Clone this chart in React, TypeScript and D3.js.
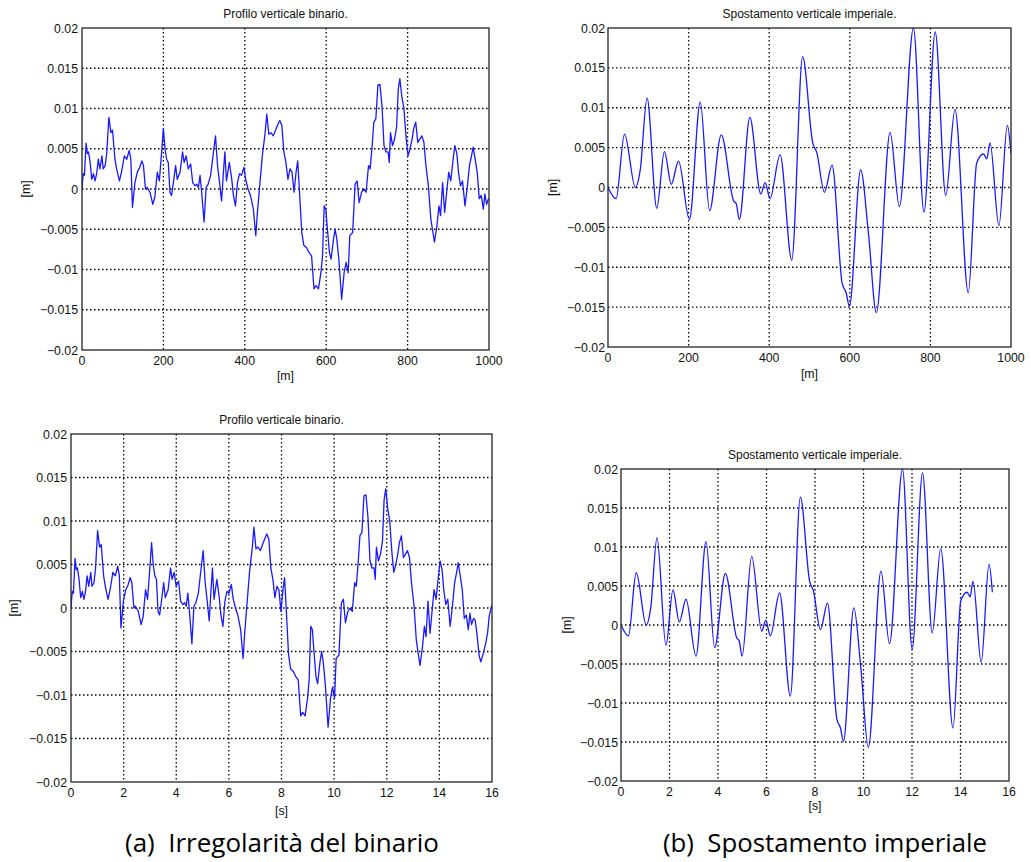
import React, { useRef, useEffect } from 'react';
import * as d3 from 'd3';

// train speed used to turn distance [m] into time [s]
const SPEED = 65.3;

// track vertical profile, [distance m, value m]
const trackProfile: [number, number][] = [
  [0, 0], [3, 0.0019], [6, 0.0017], [10, 0.0057], [13, 0.0044], [16, 0.0046], [20, 0.0033],
  [24, 0.0012], [28, 0.0019], [32, 0.001], [36, 0.0019], [40, 0.0037], [44, 0.0025], [49, 0.0041],
  [52, 0.0025], [57, 0.0029], [61, 0.0046], [66, 0.0089], [71, 0.007], [75, 0.0073], [81, 0.0037],
  [85, 0.0025], [92, 0.001], [97, 0.0021], [104, 0.0041], [110, 0.0037], [116, 0.0048], [120, 0.0037],
  [124, -0.0023], [130, 0.0008], [136, 0.0021], [142, 0.0027], [147, 0.0035], [151, 0.0029],
  [156, 0.0], [160, 0.0002], [167, -0.0004], [174, -0.0019], [179, -0.001], [185, 0.0021],
  [190, 0.001], [196, 0.0048], [200, 0.0075], [204, 0.005], [208, 0.0037], [212, 0.0033],
  [216, -0.0004], [220, -0.0008], [224, 0.0006], [230, 0.0029], [234, 0.0012], [241, 0.0021],
  [247, 0.0046], [251, 0.0033], [256, 0.0041], [261, 0.0025], [267, 0.0031], [272, 0.0008],
  [278, 0.0004], [282, 0.0006], [286, 0.0002], [290, 0.0017], [294, -0.0004], [300, -0.0041],
  [305, 0.0002], [310, 0.0006], [316, 0.0017], [323, 0.0046], [328, 0.0066], [333, 0.0029],
  [338, 0.0008], [343, -0.0015], [347, 0.0017], [351, 0.0046], [355, 0.001], [362, 0.0033],
  [368, 0.0012], [372, -0.0008], [377, -0.0021], [382, 0.0008], [387, 0.0019], [392, 0.0017],
  [398, 0.0027], [402, 0.0012], [408, 0.0], [414, -0.0008], [421, -0.0025], [427, -0.0058],
  [431, -0.0029], [437, 0.0006], [443, 0.0041], [450, 0.007], [454, 0.0093], [459, 0.0068],
  [464, 0.007], [470, 0.0066], [477, 0.0075], [482, 0.0081], [486, 0.0085], [491, 0.0079],
  [496, 0.0046], [501, 0.0033], [506, 0.0012], [511, 0.0025], [516, 0.0021], [521, -0.0004],
  [526, 0.0021], [530, 0.0035], [534, 0.0], [540, -0.0054], [545, -0.007], [552, -0.0073],
  [558, -0.0079], [564, -0.0083], [570, -0.0124], [575, -0.012], [581, -0.0124], [587, -0.0104],
  [591, -0.0083], [595, -0.0021], [599, -0.0025], [603, -0.005], [608, -0.0079], [612, -0.0087],
  [618, -0.0062], [622, -0.005], [626, -0.0062], [631, -0.0087], [638, -0.0137], [644, -0.0104],
  [649, -0.0091], [654, -0.0104], [658, -0.0058], [665, -0.0054], [671, 0.0006], [676, 0.001],
  [681, -0.0017], [687, -0.0004], [693, 0.0], [698, -0.0004], [704, 0.0029], [708, 0.0025],
  [713, 0.0054], [717, 0.0083], [722, 0.0087], [727, 0.0129], [732, 0.013], [737, 0.0104],
  [742, 0.0054], [747, 0.0046], [752, 0.0046], [755, 0.0033], [758, 0.007], [763, 0.0054],
  [768, 0.0062], [773, 0.0077], [777, 0.0124], [781, 0.0137], [786, 0.0114], [791, 0.01],
  [796, 0.0066], [801, 0.0041], [806, 0.005], [811, 0.0062], [815, 0.0075], [820, 0.0083],
  [825, 0.0058], [830, 0.0062], [835, 0.0066], [840, 0.0058], [845, 0.0029], [851, 0.0004],
  [857, -0.0037], [861, -0.005], [866, -0.0066], [872, -0.0046], [877, -0.0021], [881, -0.0033],
  [886, 0.0008], [891, -0.0029], [896, -0.0004], [901, 0.0021], [906, 0.001], [911, 0.0033],
  [916, 0.0054], [921, 0.0044], [925, 0.0021], [930, 0.0004], [935, 0.001], [941, -0.0021],
  [947, 0.0004], [952, 0.0029], [957, 0.0041], [961, 0.0052], [966, 0.0037], [971, 0.0021],
  [976, -0.0012], [981, -0.0008], [986, -0.0025], [990, -0.0006], [994, -0.0019], [999, -0.0012],
];

// extra samples past 1000 m, only visible on the time plot
const trackTail: [number, number][] = [
  [1003, -0.0014], [1007, -0.0028], [1013, -0.0055], [1017, -0.0062], [1024, -0.0051],
  [1029, -0.0041], [1034, -0.0028], [1038, -0.0009], [1044, 0.0003],
];

// bogie vertical displacement, [distance m, value m]
const bogieDisp: [number, number][] = [
  [0, 0], [20, -0.0014], [41, 0.0067], [68, 0], [80, 0.0022], [97, 0.0112], [121, -0.0026],
  [140, 0.0045], [157, 0.0004], [175, 0.0033], [202, -0.004], [229, 0.0107], [252, -0.0029],
  [281, 0.0066], [312, -0.0017], [318, -0.002], [326, -0.004], [352, 0.0088], [379, -0.0008],
  [390, 0.0006], [402, -0.0014], [427, 0.0041], [456, -0.0091], [483, 0.0164], [508, 0.0056],
  [518, 0.0044], [537, -0.0006], [556, 0.0028], [581, -0.012], [591, -0.0132], [599, -0.0149],
  [627, 0.0022], [646, -0.0056], [666, -0.0157], [700, 0.0069], [723, -0.0024], [758, 0.02],
  [784, -0.0031], [812, 0.0195], [838, -0.001], [861, 0.0098], [894, -0.0132], [915, 0.0031],
  [932, 0.0042], [940, 0.0036], [948, 0.0056], [970, -0.0048], [991, 0.0078], [1000, 0.0042],
];

const distTicks = [0, 200, 400, 600, 800, 1000];
const timeTicks = [0, 2, 4, 6, 8, 10, 12, 14, 16];
const yTicks = [-0.02, -0.015, -0.01, -0.005, 0, 0.005, 0.01, 0.015, 0.02];

const titleTrack = 'Profilo verticale binario.';
const titleBogie = 'Spostamento verticale imperiale.';
const captions = ['(a)  Irregolarità del binario', '(b)  Spostamento imperiale'];

const toTime = (d: [number, number][]) => d.map(([m, v]) => [m / SPEED, v] as [number, number]);

const fmtY = (d: number) => (d === 0 ? '0' : (d < 0 ? '\u2212' : '') + String(Math.abs(d)));

const FONT = 'Liberation Sans, Arial, sans-serif';

const panels = [
  {
    id: 'tl', left: 82, right: 489, top: 28, bottom: 350,
    xDomain: [0, 1000], xTicks: distTicks, data: trackProfile, smooth: false,
    title: titleTrack, titleY: 18, xLabel: '[m]', xLabelY: 380, yLabelX: 30, tickGap: 4,
  },
  {
    id: 'tr', left: 608, right: 1011, top: 28, bottom: 347,
    xDomain: [0, 1000], xTicks: distTicks, data: bogieDisp, smooth: true,
    title: titleBogie, titleY: 18, xLabel: '[m]', xLabelY: 378, yLabelX: 557, tickGap: 3,
  },
  {
    id: 'bl', left: 71, right: 492, top: 434, bottom: 782,
    xDomain: [0, 16], xTicks: timeTicks, data: toTime(trackProfile.concat(trackTail)), smooth: false,
    title: titleTrack, titleY: 424, xLabel: '[s]', xLabelY: 815, yLabelX: 18, tickGap: 4,
  },
  {
    id: 'br', left: 621, right: 1009, top: 469, bottom: 781,
    xDomain: [0, 16], xTicks: timeTicks, data: toTime(bogieDisp), smooth: true,
    title: titleBogie, titleY: 459, xLabel: '[s]', xLabelY: 810, yLabelX: 571, tickGap: 3,
  },
];

const App = () => {
  const svgRef = useRef<SVGSVGElement>(null);

  useEffect(() => {
    const svg = d3.select(svgRef.current);
    svg.selectAll('*').remove();

    svg.append('rect').attr('width', 1031).attr('height', 862).attr('fill', '#fff');

    panels.forEach((p) => {
      const x = d3.scaleLinear().domain(p.xDomain).range([p.left, p.right]);
      const y = d3.scaleLinear().domain([-0.02, 0.02]).range([p.bottom, p.top]);
      const g = svg.append('g');

      g.append('clipPath').attr('id', `clip-${p.id}`)
        .append('rect')
        .attr('x', p.left).attr('y', p.top)
        .attr('width', p.right - p.left).attr('height', p.bottom - p.top);

      // dotted grid
      g.selectAll('.vgrid')
        .data(p.xTicks.slice(1, -1))
        .join('line')
        .attr('x1', (d) => x(d)).attr('x2', (d) => x(d))
        .attr('y1', p.top).attr('y2', p.bottom)
        .attr('stroke', '#000').attr('stroke-width', 1.3)
        .attr('stroke-dasharray', '1.5,2.5');
      g.selectAll('.hgrid')
        .data(yTicks.slice(1, -1))
        .join('line')
        .attr('y1', (d) => y(d)).attr('y2', (d) => y(d))
        .attr('x1', p.left).attr('x2', p.right)
        .attr('stroke', '#000').attr('stroke-width', 1.3)
        .attr('stroke-dasharray', '1.5,2.5');

      // the curve
      const line = d3.line<[number, number]>()
        .x((d) => x(d[0]))
        .y((d) => y(d[1]))
        .curve(p.smooth ? d3.curveMonotoneX : d3.curveLinear);
      g.append('path')
        .datum(p.data)
        .attr('clip-path', `url(#clip-${p.id})`)
        .attr('d', line)
        .attr('fill', 'none')
        .attr('stroke', '#1a1aff')
        .attr('stroke-width', 1.3)
        .attr('stroke-linejoin', 'round');

      // box
      g.append('rect')
        .attr('x', p.left).attr('y', p.top)
        .attr('width', p.right - p.left).attr('height', p.bottom - p.top)
        .attr('fill', 'none').attr('stroke', '#222').attr('stroke-width', 1.3);

      // tick labels
      g.selectAll('.xt')
        .data(p.xTicks)
        .join('text')
        .attr('x', (d) => x(d))
        .attr('y', p.bottom + 15)
        .attr('text-anchor', 'middle')
        .attr('font-family', FONT).attr('font-size', 12.3).attr('fill', '#111')
        .text((d) => String(d));
      g.selectAll('.yt')
        .data(yTicks)
        .join('text')
        .attr('x', p.left - p.tickGap)
        .attr('y', (d) => y(d) + 4.5)
        .attr('text-anchor', 'end')
        .attr('font-family', FONT).attr('font-size', 12.3).attr('fill', '#111')
        .text(fmtY);

      // title and axis labels
      g.append('text')
        .attr('x', (p.left + p.right) / 2).attr('y', p.titleY)
        .attr('text-anchor', 'middle')
        .attr('font-family', FONT).attr('font-size', 12).attr('fill', '#111')
        .text(p.title);
      g.append('text')
        .attr('x', (p.left + p.right) / 2).attr('y', p.xLabelY)
        .attr('text-anchor', 'middle')
        .attr('font-family', FONT).attr('font-size', 12.3).attr('fill', '#111')
        .text(p.xLabel);
      g.append('text')
        .attr('transform', `translate(${p.yLabelX}, ${(p.top + p.bottom) / 2}) rotate(-90)`)
        .attr('text-anchor', 'middle')
        .attr('font-family', FONT).attr('font-size', 12.3).attr('fill', '#111')
        .text('[m]');
    });

    // figure captions
    svg.selectAll('.cap')
      .data(captions)
      .join('text')
      .attr('x', (d, i) => (i === 0 ? 125 : 663))
      .attr('y', 852)
      .attr('textLength', (d, i) => (i === 0 ? 314 : 324))
      .attr('lengthAdjust', 'spacingAndGlyphs')
      .attr('font-family', 'Open Sans, sans-serif')
      .attr('font-size', 25)
      .attr('fill', '#000')
      .style('white-space', 'pre')
      .text((d) => d);
  }, []);

  return (
    <svg
      ref={svgRef}
      width={1031}
      height={862}
      style={{ position: 'absolute', left: 0, top: 0, display: 'block' }}
    />
  );
};

export default App;
